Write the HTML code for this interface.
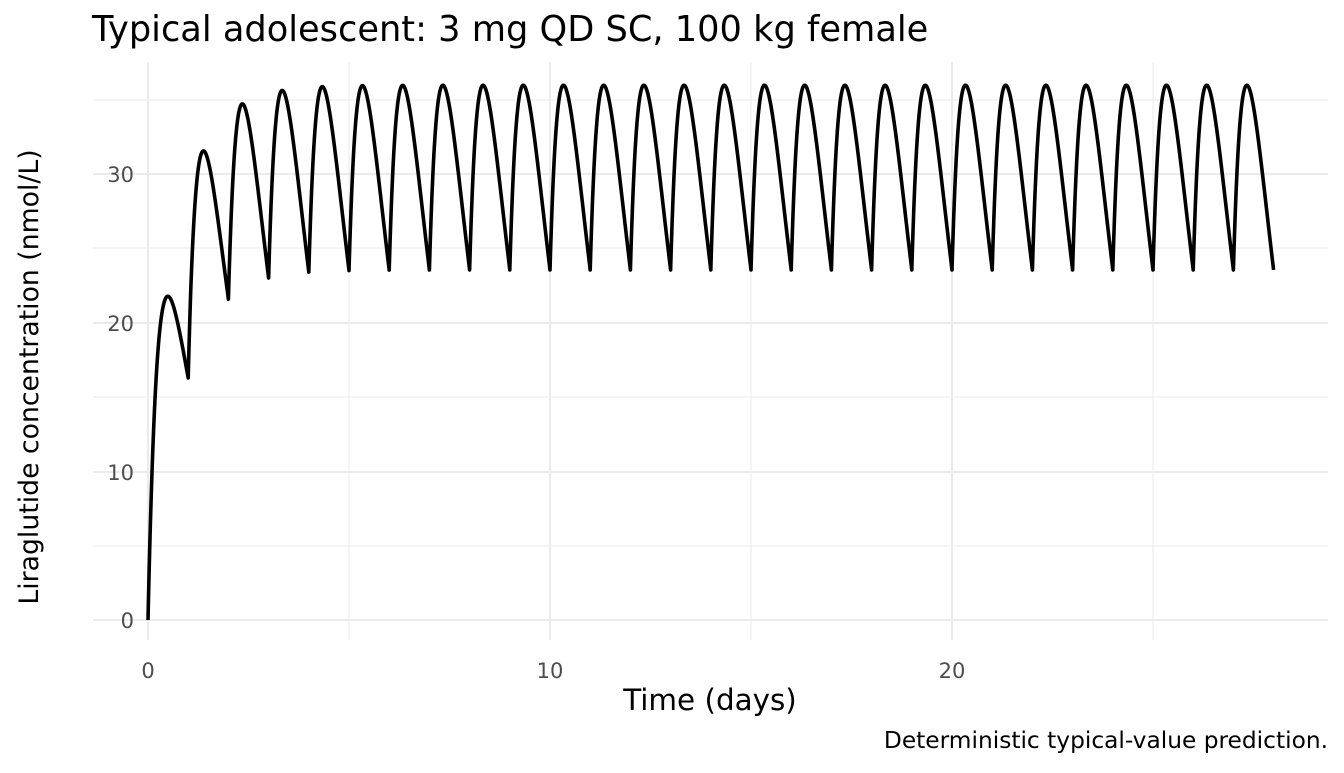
<!DOCTYPE html>
<html><head><meta charset="utf-8"><style>
body{margin:0;background:#fff;font-family:"Liberation Sans","DejaVu Sans",sans-serif}
svg text{font-family:"DejaVu Sans","Liberation Sans",sans-serif}
</style></head><body>
<svg id="s" width="1344" height="768" xmlns="http://www.w3.org/2000/svg">
<rect width="1344" height="768" fill="#fff"/>
<g stroke="#ebebeb" stroke-width="1">
<line x1="93" x2="1328" y1="546" y2="546"/><line x1="93" x2="1328" y1="397" y2="397"/>
<line x1="93" x2="1328" y1="248" y2="248"/><line x1="93" x2="1328" y1="100" y2="100"/>
<line x1="349" x2="349" y1="62" y2="640"/><line x1="751" x2="751" y1="62" y2="640"/><line x1="1153" x2="1153" y1="62" y2="640"/>
</g>
<g stroke="#ebebeb" stroke-width="2">
<line x1="93" x2="1328" y1="620" y2="620"/><line x1="93" x2="1328" y1="472" y2="472"/>
<line x1="93" x2="1328" y1="323" y2="323"/><line x1="93" x2="1328" y1="174" y2="174"/>
<line x1="148" x2="148" y1="62" y2="640"/><line x1="550" x2="550" y1="62" y2="640"/><line x1="952" x2="952" y1="62" y2="640"/>
</g>
<path id="p" fill="none" stroke="#000" stroke-width="3.6" stroke-linejoin="round"/>
<g fill="#4d4d4d" font-size="21" text-anchor="end">
<text x="134" y="628">0</text><text x="134" y="480">10</text><text x="134" y="331">20</text><text x="134" y="182">30</text>
</g>
<g fill="#4d4d4d" font-size="21" text-anchor="middle">
<text x="148" y="678">0</text><text x="550" y="678">10</text><text x="952" y="678">20</text>
</g>
<text x="710" y="710" font-size="29.4" text-anchor="middle">Time (days)</text>
<text transform="translate(38,377) rotate(-90)" font-size="26.7" text-anchor="middle">Liraglutide concentration (nmol/L)</text>
<text x="92" y="41" font-size="35.2">Typical adolescent: 3 mg QD SC, 100 kg female</text>
<text x="1328" y="748" font-size="23.3" text-anchor="end">Deterministic typical-value prediction.</text>
</svg>
<script>
var ke=1.29,ka=3.0,A=72.2,d="";
for(var i=0;i<=2800;i++){var t=i/100,c=0;
for(var n=0;n<=Math.floor(t+1e-9)&&n<28;n++){var u=t-n;c+=A*(Math.exp(-ke*u)-Math.exp(-ka*u));}
c=c-0.06*Math.max(0,c-22);
var x=148+t*40.2,y=620-c*14.87;d+=(i?"L":"M")+x.toFixed(2)+","+y.toFixed(2);}
document.getElementById("p").setAttribute("d",d);
</script>
</body></html>
